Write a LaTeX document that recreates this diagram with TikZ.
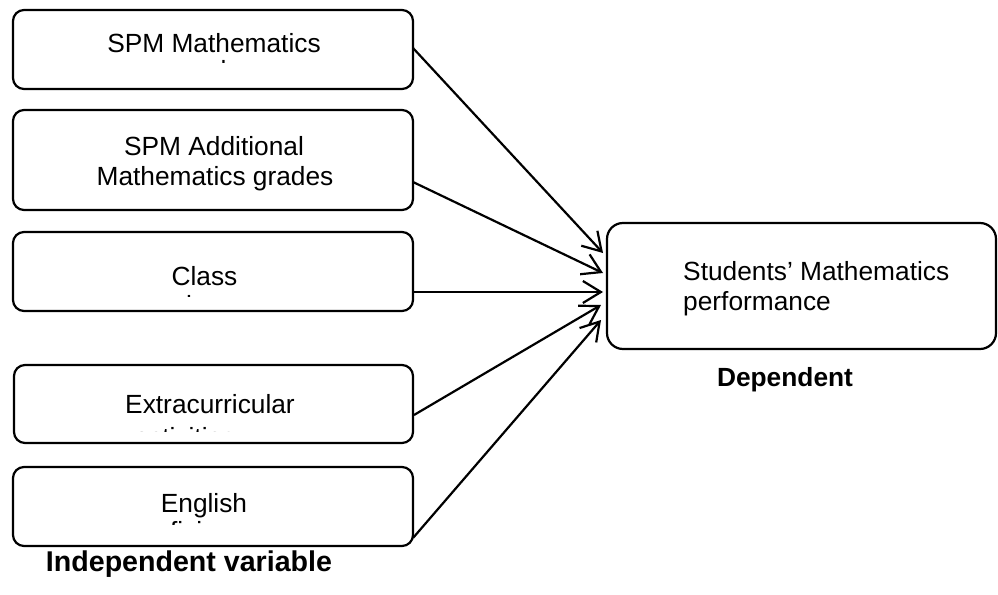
\documentclass[tikz,border=0pt]{standalone}
\usepackage{fontspec}
\setmainfont{Liberation Sans}
\usetikzlibrary{arrows.meta}
\begin{document}
\begin{tikzpicture}[x=1pt,y=-1pt,
  box/.style={draw=black, line width=2.2pt, rounded corners=11pt, rectangle, inner sep=0pt},
  txt/.style={anchor=base, inner sep=0pt, font=\fontsize{26.3}{31}\selectfont},
  bold/.style={anchor=base, inner sep=0pt, font=\fontsize{26.3}{31}\selectfont\bfseries},
  conn/.style={line width=2.2pt, -{Straight Barb[length=18pt,width=22pt]}}]
\useasboundingbox (0,0) rectangle (998,594);

% independent boxes
\node[box, minimum width=400pt, minimum height=79pt] (b1) at (213,49.5) {};
\node[box, minimum width=400pt, minimum height=100pt] (b2) at (213,160) {};
\node[box, minimum width=400pt, minimum height=79pt] (b3) at (213,271.5) {};
\node[box, minimum width=399pt, minimum height=78pt] (b4) at (213.5,404) {};
\node[box, minimum width=400pt, minimum height=79pt] (b5) at (213,506.5) {};

% dependent box
\node[box, rounded corners=16pt, minimum width=389pt, minimum height=126pt] (dep) at (801.5,286) {};

% texts
\node[txt] (t1) at (214,52.7) {SPM Mathematics};
\begin{scope}
  \clip (15,52.7) rectangle (411,63);
  \node[txt] (t1b) at (214,80) {grades};
\end{scope}

\node[txt] (t2a) at (214,155) {SPM Additional};
\node[txt] (t2b) at (215,185) {Mathematics grades};

\node[txt] (t3) at (204.5,285) {Class};
\begin{scope}
  \clip (15,285) rectangle (411,296.5);
  \node[txt] (t3b) at (184,314.5) {attendance};
\end{scope}

\node[txt] (t4) at (210,413) {Extracurricular};
\begin{scope}
  \clip (15,413) rectangle (411,431);
  \node[txt] (t4b) at (185,446) {activities};
\end{scope}

\node[txt] (t5) at (204,512) {English};
\begin{scope}
  \clip (15,512) rectangle (411,524);
  \node[txt] (t5b) at (195,540) {proficiency};
\end{scope}

\node[txt, anchor=base west] (d1) at (683,280) {Students’ Mathematics};
\node[txt, anchor=base west] (d2) at (683,310) {performance};

\node[bold] (dlab) at (785,386) {Dependent};
\node[bold, font=\fontsize{28.6}{33}\selectfont\bfseries] (ilab) at (189,571) {Independent variable};

% connector ends
\coordinate (s1) at (413,48);
\coordinate (s2) at (413,182);
\coordinate (s3) at (413,292);
\coordinate (s4) at (414,415);
\coordinate (s5) at (413,538);
\coordinate (e1) at (603,253);
\coordinate (e2) at (603,273);
\coordinate (e3) at (603,292);
\coordinate (e4) at (601,305);
\coordinate (e5) at (601,320);

\draw[conn] (s1) -- (e1);
\draw[conn] (s2) -- (e2);
\draw[conn] (s3) -- (e3);
\draw[conn] (s4) -- (e4);
\draw[conn] (s5) -- (e5);
\end{tikzpicture}
\end{document}
